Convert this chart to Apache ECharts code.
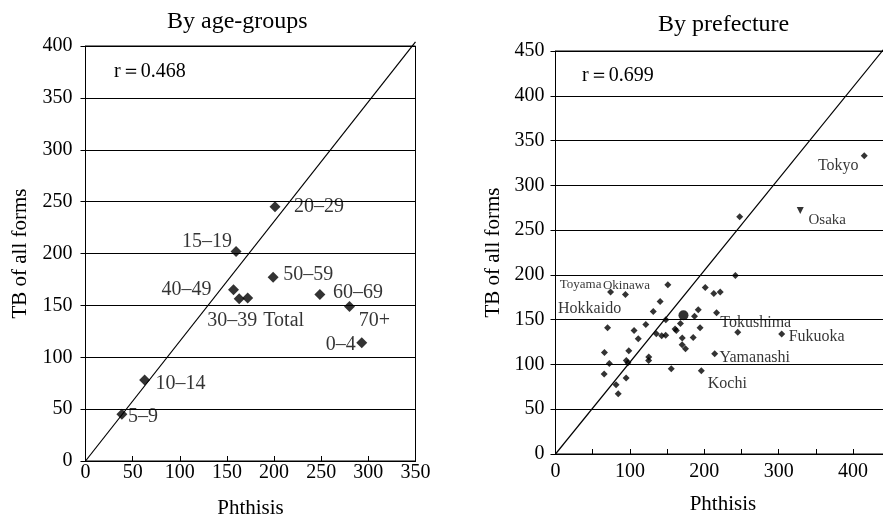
<!DOCTYPE html>
<html>
<head>
<meta charset="utf-8">
<script src="https://cdn.jsdelivr.net/npm/echarts@6/dist/echarts.min.js"></script>
<style>
html,body{margin:0;padding:0;background:#fff;}
#chart{width:883px;height:517px;}
</style>
</head>
<body>
<div id="chart"></div>
<script>
// ---- Data: by age-groups ----
const ageGroups   = ['0–4','5–9','10–14','15–19','20–29','30–39','40–49','50–59','60–69','70+','Total'];
const agePhthisis = [293, 38.6, 62.7, 159.7, 201, 163, 157, 199, 248.6, 280, 172];
const ageTB       = [114, 45, 78, 202, 245, 156.5, 165, 177, 160.6, 149, 157];

// ---- Data: by prefecture ----
const prefLabeled          = ['Tokyo','Osaka','Toyama','Okinawa','Hokkaido','Tokushima','Fukuoka','Yamanashi','Kochi'];
const prefLabeledPhthisis  = [415, 329, 74, 94, 70, 245, 304, 214, 196];
const prefLabeledTB        = [333, 272, 181, 178, 141, 136, 134, 112, 93];
const prefOtherPhthisis = [247.6, 241.8, 151, 201.3, 212.8, 221.4, 140.6, 131.4, 191.9, 216.5, 186.8, 148.3,
  121.4, 167.9, 194.3, 160.7, 162.4, 105.6, 135.5, 142.7, 148.1, 111.2, 170.4, 185.1, 170.2, 174.7,
  65.8, 98.5, 72.3, 95.2, 97.4, 125.3, 125.2, 155.6, 65.4, 94.9, 81.4, 84.3];
const prefOtherTB = [265, 199.3, 189, 185.9, 179.2, 181, 170.2, 159, 161, 157.6, 153.7, 150,
  144.5, 145.6, 141, 139.6, 138, 138, 134.4, 132.1, 132.5, 128.8, 129.6, 130.2, 122, 117.6,
  113.4, 115.3, 101, 104.5, 102, 108.3, 104.5, 95.2, 89.2, 84.8, 77.3, 67.2];
const nationalPhthisis = 172;
const nationalTB = 155;

const rAge = 'r＝0.468';
const rPref = 'r＝0.699';
const diagAge = [[0, 0], [350, 404]];
const diagPref = [[0, 0], [450, 461]];

// ---- label placement (style, pixels) ----
const ageLabelOffset = {
  '0–4': [-21, 2], '5–9': [21, 2], '10–14': [36, 4], '15–19': [-29, -10], '20–29': [44, 0],
  '30–39': [-7, 22], '40–49': [-47, 0], '50–59': [35, -3], '60–69': [38, -2], '70+': [25, 14], 'Total': [36, 23]
};
const prefLabelOffset = {
  'Tokyo': [-26, 10, 16], 'Osaka': [27, 10, 15], 'Toyama': [-30, -7, 13], 'Okinawa': [1, -9, 13],
  'Hokkaido': [-18, -19, 16], 'Tokushima': [18, -9, 16], 'Fukuoka': [35, 3, 16], 'Yamanashi': [40, 4, 16], 'Kochi': [26, 13, 16]
};

const FONT = "'Liberation Serif', 'Times New Roman', serif";
const chart = echarts.init(document.getElementById('chart'), null, {renderer: 'canvas'});

function axisCommon() {
  return {
    type: 'value',
    axisLine: {show: true, lineStyle: {color: '#000', width: 1}},
    axisLabel: {color: '#000', fontSize: 20, fontFamily: FONT},
    nameTextStyle: {color: '#000', fontSize: 21, fontFamily: FONT},
    nameLocation: 'middle'
  };
}

const labelBase = {show: true, position: 'inside', formatter: '{b}', color: '#000',
  fontFamily: FONT, textBorderWidth: 0, textBorderColor: 'transparent', textShadowBlur: 0};

const ageData = ageGroups.map((g, i) => ({
  name: g, value: [agePhthisis[i], ageTB[i]],
  label: {offset: ageLabelOffset[g]}
}));
const prefLabeledData = prefLabeled.map((p, i) => ({
  name: p, value: [prefLabeledPhthisis[i], prefLabeledTB[i]],
  symbol: p === 'Osaka' ? 'triangle' : 'diamond',
  symbolRotate: p === 'Osaka' ? 180 : 0,
  label: {offset: prefLabelOffset[p].slice(0, 2), fontSize: prefLabelOffset[p][2]}
}));
const prefOtherData = prefOtherPhthisis.map((x, i) => [x, prefOtherTB[i]]);

const option = {
  backgroundColor: '#fff',
  animation: false,
  grid: [
    {left: 85.5, top: 46, width: 330, height: 415, show: true, borderColor: '#000', borderWidth: 1, outerBoundsMode: 'none'},
    {left: 555.5, top: 51, width: 334.8, height: 403, show: true, borderColor: '#000', borderWidth: 1, outerBoundsMode: 'none'}
  ],
  xAxis: [
    Object.assign(axisCommon(), {
      gridIndex: 0, min: 0, max: 350, interval: 50,
      axisTick: {show: true, inside: true, length: 5, lineStyle: {color: '#000'}},
      axisLabel: {color: '#000', fontSize: 20, fontFamily: FONT, margin: 2},
      splitLine: {show: false},
      name: 'Phthisis', nameGap: 37
    }),
    Object.assign(axisCommon(), {
      gridIndex: 1, min: 0, max: 450, interval: 50,
      axisTick: {show: true, inside: true, length: 5, lineStyle: {color: '#000'}},
      axisLabel: {color: '#000', fontSize: 20, fontFamily: FONT, margin: 8,
        formatter: v => (v % 100 === 0 ? String(v) : '')},
      splitLine: {show: false},
      name: 'Phthisis', nameGap: 40
    })
  ],
  yAxis: [
    Object.assign(axisCommon(), {
      gridIndex: 0, min: 0, max: 400, interval: 50,
      axisTick: {show: true, inside: false, length: 5, lineStyle: {color: '#000'}},
      axisLabel: {color: '#000', fontSize: 20, fontFamily: FONT, margin: 13},
      splitLine: {show: true, lineStyle: {color: '#000', width: 1}},
      name: 'TB of all forms', nameGap: 55, nameRotate: 90
    }),
    Object.assign(axisCommon(), {
      gridIndex: 1, min: 0, max: 450, interval: 50,
      axisTick: {show: true, inside: false, length: 5, lineStyle: {color: '#000'}},
      axisLabel: {color: '#000', fontSize: 20, fontFamily: FONT, margin: 11},
      splitLine: {show: true, lineStyle: {color: '#000', width: 1}},
      name: 'TB of all forms', nameGap: 52, nameRotate: 90
    })
  ],
  graphic: [
    {type: 'text', left: 237 - 70, top: 10, style: {text: 'By age-groups', fill: '#000', font: "24px " + FONT}},
    {type: 'text', left: 724 - 66, top: 13, style: {text: 'By prefecture', fill: '#000', font: "24px " + FONT}},
    {type: 'text', left: 114, top: 62, style: {text: rAge, fill: '#000', font: "20px " + FONT}},
    {type: 'text', left: 582, top: 66, style: {text: rPref, fill: '#000', font: "20px " + FONT}}
  ],
  series: [
    {
      type: 'line', xAxisIndex: 0, yAxisIndex: 0, data: diagAge, showSymbol: false, symbol: 'none',
      clip: false, silent: true, lineStyle: {color: '#000', width: 1.2}, z: 3
    },
    {
      type: 'scatter', xAxisIndex: 0, yAxisIndex: 0, data: ageData, symbol: 'diamond', symbolSize: 11,
      itemStyle: {color: '#000'}, z: 4,
      label: Object.assign({}, labelBase, {fontSize: 20})
    },
    {
      type: 'line', xAxisIndex: 1, yAxisIndex: 1, data: diagPref, showSymbol: false, symbol: 'none',
      clip: false, silent: true, lineStyle: {color: '#000', width: 1.2}, z: 3
    },
    {
      type: 'scatter', xAxisIndex: 1, yAxisIndex: 1, data: prefOtherData, symbol: 'diamond', symbolSize: 7,
      itemStyle: {color: '#000'}, z: 4
    },
    {
      type: 'scatter', xAxisIndex: 1, yAxisIndex: 1, data: [[nationalPhthisis, nationalTB]], symbol: 'circle', symbolSize: 10,
      itemStyle: {color: '#000'}, z: 4
    },
    {
      type: 'scatter', xAxisIndex: 1, yAxisIndex: 1, data: prefLabeledData, symbolSize: 7,
      itemStyle: {color: '#000'}, z: 4,
      label: Object.assign({}, labelBase, {fontSize: 16})
    }
  ]
};
chart.setOption(option);
</script>
</body>
</html>
